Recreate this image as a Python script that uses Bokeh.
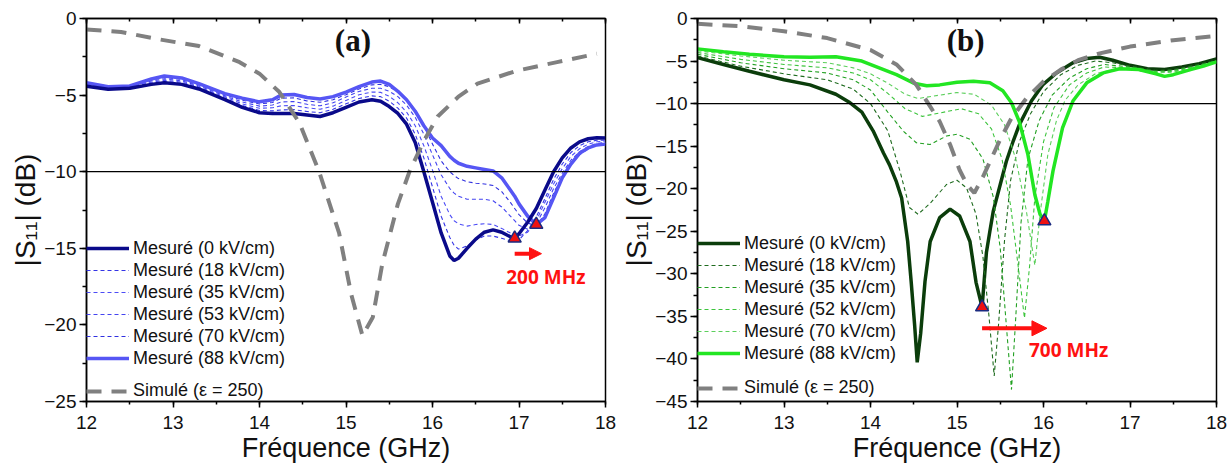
from bokeh.plotting import figure
from bokeh.models import (Range1d, LinearAxis, Span, Legend, LegendItem, Arrow,
                          NormalHead, SingleIntervalTicker, Label)
from bokeh.layouts import row
from bokeh.embed import file_html
from bokeh.resources import INLINE

# ---------------- Panel (a) data ----------------
A_X = [12.0, 12.25, 12.5, 12.75, 12.9, 13.1, 13.3, 13.6, 13.8, 14.0, 14.15, 14.25, 14.4, 14.55, 14.7, 14.85,
       15.0, 15.15, 15.3, 15.4, 15.5, 15.6, 15.7, 15.8, 15.9, 16.0, 16.1, 16.2, 16.25, 16.3, 16.4, 16.5,
       16.6, 16.7, 16.8, 16.9, 16.95, 17.0, 17.1, 17.2, 17.3, 17.4, 17.5, 17.6, 17.7, 17.8, 17.9, 18.0]
A_0 = [-4.42, -4.62, -4.55, -4.3, -4.2, -4.3, -4.6, -5.3, -5.8, -6.15, -6.2, -6.2, -6.2, -6.3, -6.4, -6.15,
       -5.8, -5.45, -5.3, -5.4, -5.75, -6.2, -6.9, -8.1, -10.0, -12.0, -14.0, -15.5, -15.8, -15.65, -15.0, -14.4,
       -13.95, -13.8, -13.95, -14.25, -14.35, -14.05, -13.3, -12.4, -11.2, -10.0, -9.1, -8.45, -8.05, -7.85, -7.78, -7.8]
A_18 = [-4.38, -4.58, -4.5, -4.23, -4.12, -4.22, -4.53, -5.2, -5.68, -6.0, -6.03, -5.97, -5.95, -6.07, -6.15, -5.93,
        -5.57, -5.22, -5.05, -5.1, -5.4, -5.85, -6.5, -7.55, -9.1, -11.0, -12.9, -14.3, -14.8, -15.05, -14.85, -14.45,
        -14.2, -14.2, -14.35, -14.5, -14.55, -14.45, -13.85, -12.95, -11.75, -10.5, -9.5, -8.75, -8.3, -8.05, -7.95, -7.95]
A_35 = [-4.33, -4.55, -4.47, -4.16, -4.04, -4.15, -4.47, -5.12, -5.57, -5.86, -5.83, -5.7, -5.68, -5.83, -5.92, -5.72,
        -5.35, -4.98, -4.8, -4.82, -5.08, -5.5, -6.1, -7.0, -8.3, -9.9, -11.6, -12.8, -13.2, -13.4, -13.55, -13.45,
        -13.4, -13.45, -13.7, -14.0, -14.15, -14.2, -13.95, -13.2, -12.0, -10.8, -9.8, -9.0, -8.5, -8.2, -8.05, -8.0]
A_53 = [-4.28, -4.52, -4.44, -4.08, -3.94, -4.07, -4.4, -5.05, -5.45, -5.72, -5.65, -5.45, -5.42, -5.6, -5.7, -5.5,
        -5.13, -4.76, -4.55, -4.55, -4.75, -5.1, -5.65, -6.45, -7.55, -8.9, -10.2, -11.1, -11.4, -11.6, -11.8, -11.8,
        -11.8, -11.9, -12.3, -12.9, -13.2, -13.5, -13.75, -13.4, -12.35, -11.1, -10.1, -9.25, -8.7, -8.35, -8.15, -8.1]
A_70 = [-4.24, -4.48, -4.42, -4.02, -3.85, -3.98, -4.33, -4.97, -5.33, -5.58, -5.48, -5.2, -5.18, -5.38, -5.47, -5.3,
        -4.97, -4.6, -4.33, -4.3, -4.45, -4.8, -5.3, -6.0, -7.0, -8.2, -9.3, -10.0, -10.25, -10.45, -10.65, -10.75,
        -10.8, -10.9, -11.3, -12.0, -12.4, -12.8, -13.35, -13.55, -12.75, -11.4, -10.3, -9.5, -8.9, -8.5, -8.25, -8.15]
A_88 = [-4.2, -4.45, -4.4, -3.95, -3.75, -3.88, -4.25, -4.9, -5.2, -5.44, -5.3, -5.0, -4.96, -5.16, -5.25, -5.1,
        -4.8, -4.45, -4.15, -4.08, -4.3, -4.75, -5.3, -6.05, -7.0, -7.8, -8.3, -9.0, -9.25, -9.45, -9.65, -9.75,
        -9.85, -9.95, -10.4, -11.2, -11.6, -12.1, -12.9, -13.45, -13.0, -11.7, -10.4, -9.5, -8.8, -8.45, -8.25, -8.2]
SA_X = [12.0, 12.4, 12.85, 13.3, 13.77, 14.0, 14.23, 14.46, 14.69, 14.92, 15.06, 15.19, 15.31, 15.42, 15.6,
        15.74, 15.9, 16.06, 16.3, 16.52, 16.98, 17.44, 17.9]
SA_Y = [-0.72, -0.88, -1.37, -1.8, -2.85, -3.6, -4.8, -6.8, -10.0, -14.0, -18.0, -20.7, -19.5, -16.0, -12.1,
        -9.9, -8.0, -6.4, -5.1, -4.25, -3.4, -2.85, -2.3]
A_MARK_X = [16.95, 17.2]
A_MARK_Y = [-14.35, -13.45]
A_LABELS = ["Mesuré (0 kV/cm)", "Mesuré (18 kV/cm)", "Mesuré (35 kV/cm)",
            "Mesuré (53 kV/cm)", "Mesuré (70 kV/cm)", "Mesuré (88 kV/cm)"]

# ---------------- Panel (b) data ----------------
B0_X = [12.0, 12.3, 12.6, 13.0, 13.3, 13.6, 13.75, 13.9, 14.03, 14.15, 14.22, 14.3, 14.36, 14.43, 14.47, 14.51,
        14.54, 14.58, 14.63, 14.69, 14.8, 14.92, 15.03, 15.15, 15.22, 15.29, 15.34, 15.38, 15.42, 15.5, 15.57,
        15.65, 15.72, 15.86, 15.99, 16.15, 16.34, 16.5, 16.65, 16.8, 17.0, 17.2, 17.4, 17.6, 17.8, 18.0]
B0_Y = [-4.6, -5.4, -6.2, -7.2, -7.8, -8.9, -9.8, -11.0, -13.2, -15.8, -17.2, -19.2, -21.1, -26.2, -30.9, -36.0,
        -40.4, -37.0, -30.9, -26.2, -23.4, -22.4, -23.2, -26.2, -31.0, -33.9, -27.5, -25.0, -22.6, -19.5, -16.8,
        -14.4, -12.5, -9.7, -7.8, -6.4, -5.2, -4.7, -4.55, -4.9, -5.5, -5.9, -6.0, -5.7, -5.3, -4.75]
B18_X = [12.0, 12.5, 13.0, 13.5, 13.8, 14.0, 14.2, 14.34, 14.45, 14.55, 14.69, 14.88, 15.0, 15.11, 15.22, 15.3,
         15.37, 15.43, 15.48, 15.55, 15.62, 15.72, 15.85, 16.0, 16.2, 16.4, 16.6, 16.8, 17.0, 17.3, 17.5, 17.75, 18.0]
B18_Y = [-4.4, -5.6, -6.5, -7.2, -8.3, -10.0, -13.2, -17.9, -22.2, -23.0, -21.7, -19.5, -19.0, -19.9, -23.0, -28.0,
         -35.0, -42.0, -36.0, -26.0, -19.0, -14.5, -11.2, -8.6, -6.6, -5.5, -5.0, -5.2, -5.6, -6.1, -6.0, -5.5, -4.9]
B35_X = [12.0, 12.5, 13.0, 13.5, 13.8, 14.0, 14.2, 14.38, 14.53, 14.69, 14.88, 15.0, 15.15, 15.3, 15.42, 15.5,
         15.57, 15.63, 15.68, 15.74, 15.82, 15.95, 16.1, 16.3, 16.5, 16.7, 17.0, 17.3, 17.5, 17.75, 18.0]
B35_Y = [-4.2, -5.2, -5.9, -6.4, -7.2, -8.4, -11.0, -13.24, -14.6, -14.8, -13.8, -13.6, -14.2, -16.5, -21.0, -27.0,
         -36.0, -43.6, -35.0, -24.0, -16.5, -12.0, -9.0, -7.0, -5.9, -5.4, -5.7, -6.2, -6.1, -5.6, -5.0]
B52_X = [12.0, 12.5, 13.0, 13.5, 13.8, 14.0, 14.2, 14.4, 14.6, 14.8, 15.05, 15.25, 15.4, 15.52, 15.62, 15.7,
         15.78, 15.84, 15.9, 16.0, 16.12, 16.3, 16.5, 16.7, 17.0, 17.3, 17.5, 17.75, 18.0]
B52_Y = [-4.0, -4.8, -5.4, -5.8, -6.4, -7.2, -8.8, -10.6, -11.5, -11.1, -10.6, -11.2, -13.0, -16.5, -22.0, -28.5,
         -35.2, -29.0, -21.0, -14.5, -10.5, -7.8, -6.4, -5.7, -5.8, -6.3, -6.2, -5.7, -5.0]
B70_X = [12.0, 12.5, 13.0, 13.5, 13.8, 14.0, 14.2, 14.4, 14.55, 14.8, 15.0, 15.2, 15.4, 15.55, 15.68, 15.8,
         15.9, 15.96, 16.05, 16.15, 16.25, 16.4, 16.6, 16.8, 17.0, 17.3, 17.5, 17.75, 18.0]
B70_Y = [-3.8, -4.4, -4.9, -5.2, -5.8, -6.5, -7.6, -8.9, -9.4, -9.0, -8.7, -8.9, -10.2, -12.5, -16.5, -22.5,
         -29.0, -23.0, -16.0, -12.0, -9.6, -7.8, -6.5, -6.0, -6.0, -6.4, -6.3, -5.8, -5.1]
B88_X = [12.0, 12.3, 12.6, 13.0, 13.3, 13.6, 13.9, 14.1, 14.3, 14.5, 14.65, 14.8, 15.0, 15.19, 15.38, 15.53,
         15.63, 15.72, 15.82, 15.9, 15.96, 16.01, 16.05, 16.11, 16.22, 16.34, 16.5, 16.69, 16.88, 17.1, 17.3,
         17.4, 17.5, 17.7, 17.85, 18.0]
B88_Y = [-3.57, -3.9, -4.2, -4.5, -4.55, -4.5, -5.0, -5.8, -6.6, -7.6, -7.9, -7.8, -7.5, -7.37, -7.56, -8.5,
         -9.9, -12.1, -16.0, -20.7, -23.0, -23.8, -21.5, -17.9, -12.85, -9.7, -7.56, -6.39, -5.9, -6.0, -6.5,
         -6.8, -6.6, -6.0, -5.6, -5.1]
SB_X = [12.0, 12.5, 13.0, 13.5, 14.0, 14.3, 14.53, 14.7, 14.8, 14.92, 15.03, 15.12, 15.2, 15.3, 15.4, 15.5,
        15.63, 15.8, 16.0, 16.2, 16.4, 16.65, 17.0, 17.5, 18.0]
SB_Y = [-0.63, -0.9, -1.5, -2.3, -3.7, -5.4, -7.8, -10.5, -12.1, -14.8, -17.8, -19.6, -20.5, -18.6, -16.4, -14.2,
        -11.7, -9.4, -7.4, -6.0, -4.9, -4.1, -3.3, -2.55, -2.05]
B_MARK_X = [15.29, 16.01]
B_MARK_Y = [-33.9, -23.8]
B_LABELS = ["Mesuré (0 kV/cm)", "Mesuré (18 kV/cm)", "Mesuré (35 kV/cm)",
            "Mesuré (52 kV/cm)", "Mesuré (70 kV/cm)", "Mesuré (88 kV/cm)"]
SIM_LABEL = "Simulé (ε = 250)"
X_TITLE = "Fréquence (GHz)"
Y_TITLE = "|S₁₁| (dB)"

FONT = "Liberation Sans"


def base_fig(width, left, right, ymin):
    p = figure(width=width, height=465, x_range=Range1d(12, 18), y_range=Range1d(ymin, 0),
               output_backend="svg", toolbar_location=None,
               min_border_left=left, min_border_right=right,
               min_border_top=18, min_border_bottom=64)
    p.xgrid.visible = False
    p.ygrid.visible = False
    p.outline_line_color = "black"
    p.outline_line_width = 1.5
    p.xaxis.ticker = SingleIntervalTicker(interval=1, num_minor_ticks=2)
    p.yaxis.ticker = SingleIntervalTicker(interval=5, num_minor_ticks=2)
    for ax in (p.xaxis[0], p.yaxis[0]):
        ax.axis_line_width = 1.5
        ax.axis_line_color = "black"
        ax.major_tick_line_width = 1.5
        ax.minor_tick_line_width = 1.5
        ax.major_tick_in = 0
        ax.minor_tick_in = 0
        ax.major_label_text_font = FONT
        ax.major_label_text_font_size = "19px"
        ax.major_label_text_color = "#111111"
        ax.axis_label_text_font = FONT
        ax.axis_label_text_font_size = "28px"
        ax.axis_label_text_font_style = "normal"
        ax.axis_label_text_color = "#111111"
    p.xaxis[0].axis_label_text_font_size = "27px"
    p.xaxis[0].major_tick_out = 6
    p.xaxis[0].minor_tick_out = 3
    p.xaxis[0].major_label_standoff = 8
    p.xaxis[0].axis_label_standoff = 1
    p.xaxis[0].axis_label = X_TITLE
    p.yaxis[0].major_tick_out = 7
    p.yaxis[0].minor_tick_out = 4
    p.yaxis[0].major_label_standoff = 3
    p.yaxis[0].axis_label_standoff = 0
    p.yaxis[0].axis_label = Y_TITLE
    top = LinearAxis(ticker=SingleIntervalTicker(interval=1, num_minor_ticks=2),
                     major_label_text_font_size="0px", major_label_text_color=None,
                     major_label_standoff=0,
                     major_tick_in=5, major_tick_out=0, minor_tick_in=3, minor_tick_out=0,
                     axis_line_width=1.5, major_tick_line_width=1.5, minor_tick_line_width=1.5)
    p.add_layout(top, "above")
    p.add_layout(Span(location=-10, dimension="width", line_color="black", line_width=1.3))
    return p


def add_legends(p, rends, labels, sim_r, y_main, y_sim):
    common = dict(glyph_width=43, glyph_height=22, label_height=22, label_standoff=4, spacing=0,
                  padding=0, margin=0, border_line_color=None, background_fill_alpha=0,
                  label_text_font=FONT, label_text_font_size="18px", label_text_color="#111111")
    leg = Legend(items=[LegendItem(label=l, renderers=[r]) for l, r in zip(labels, rends)],
                 location=(0, y_main), **common)
    p.add_layout(leg)
    common2 = dict(common)
    common2.update(glyph_height=20, label_height=20)
    leg2 = Legend(items=[LegendItem(label=SIM_LABEL, renderers=[sim_r])], location=(0, y_sim), **common2)
    p.add_layout(leg2)


# ---------------- Panel (a) ----------------
pa = base_fig(616, 86, 11, -25)
a_series = [A_0, A_18, A_35, A_53, A_70, A_88]
a_colors = ["#0a0a8a", "#3434e6", "#4c4cf6", "#4444f0", "#3030e0", "#5656f4"]
a_rends = []
for i, (ys, c) in enumerate(zip(a_series, a_colors)):
    if i in (0, 5):
        r = pa.line(A_X, ys, line_color=c, line_width=3.5)
    else:
        r = pa.line(A_X, ys, line_color=c, line_width=1.1, line_dash="4 3")
    a_rends.append(r)
pa.renderers.remove(a_rends[0])
pa.renderers.append(a_rends[0])
sim_a = pa.line(SA_X, SA_Y, line_color="#808080", line_width=4, line_dash="15 10")
pa.scatter(A_MARK_X, A_MARK_Y, marker="triangle", size=13, fill_color="#ee1111",
           line_color="#1a2a80", line_width=1.5)
pa.add_layout(Arrow(end=NormalHead(size=12, fill_color="#ff1111", line_color="#ff1111", line_width=1),
                    x_start=16.95, y_start=-15.35, x_end=17.26, y_end=-15.35,
                    line_color="#ff1111", line_width=4))
pa.add_layout(Label(x=17.31, y=-16.87, text="200 MHz", text_font="Open Sans", text_font_style="bold",
                    text_font_size="19px", text_color="#ff1111", text_align="center", text_baseline="middle"))
pa.add_layout(Label(x=15.08, y=-1.46, text="(a)", text_font="Liberation Serif", text_font_style="bold",
                    text_font_size="31px", text_color="#111111", text_align="center", text_baseline="middle"))
add_legends(pa, a_rends, A_LABELS, sim_a, 32, 0)

# ---------------- Panel (b) ----------------
pb = base_fig(611, 81, 11, -45)
b_x = [B0_X, B18_X, B35_X, B52_X, B70_X, B88_X]
b_y = [B0_Y, B18_Y, B35_Y, B52_Y, B70_Y, B88_Y]
b_colors = ["#0b3d0b", "#1e6b1e", "#22a022", "#3dc43d", "#5ccf5c", "#22e622"]
b_rends = []
for i, (xs, ys, c) in enumerate(zip(b_x, b_y, b_colors)):
    if i in (0, 5):
        r = pb.line(xs, ys, line_color=c, line_width=3.5)
    else:
        r = pb.line(xs, ys, line_color=c, line_width=1.1, line_dash="4 3")
    b_rends.append(r)
sim_b = pb.line(SB_X, SB_Y, line_color="#808080", line_width=4, line_dash="15 10")
pb.scatter(B_MARK_X, B_MARK_Y, marker="triangle", size=13, fill_color="#ee1111",
           line_color="#1a2a80", line_width=1.5)
pb.add_layout(Arrow(end=NormalHead(size=15, fill_color="#ff1111", line_color="#ff1111", line_width=1),
                    x_start=15.29, y_start=-36.4, x_end=16.04, y_end=-36.4,
                    line_color="#ff1111", line_width=4))
pb.add_layout(Label(x=16.29, y=-38.9, text="700 MHz", text_font="Open Sans", text_font_style="bold",
                    text_font_size="19px", text_color="#ff1111", text_align="center", text_baseline="middle"))
pb.add_layout(Label(x=15.1, y=-2.58, text="(b)", text_font="Liberation Serif", text_font_style="bold",
                    text_font_size="31px", text_color="#111111", text_align="center", text_baseline="middle"))
add_legends(pb, b_rends, B_LABELS, sim_b, 37, 3)

layout = row(pa, pb)
open("out.html", "w").write(file_html(layout, INLINE, "S11"))
